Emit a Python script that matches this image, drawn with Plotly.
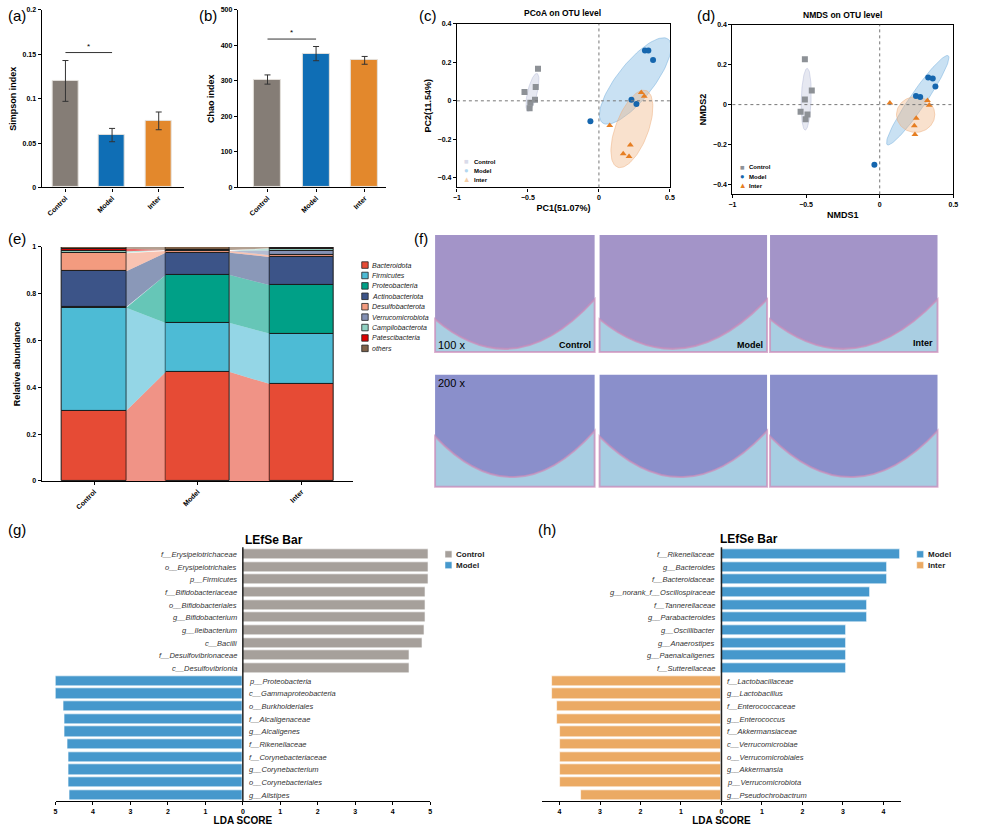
import numpy as np
import plotly.graph_objects as go

W, H = 999, 826
FONT = "Arial, Liberation Sans, sans-serif"

groups = ["Control", "Model", "Inter"]
group_colors = ["#857D76", "#0F6EB5", "#E3882C"]

# (a) Simpson index
simpson_mean = [0.120, 0.059, 0.075]
simpson_err = [0.023, 0.0075, 0.010]
# (b) Chao index
chao_mean = [304, 377, 358]
chao_err = [13, 20, 11]

# (c) PCoA on OTU level
pcoa_control_x = [-0.429, -0.445, -0.524, -0.450, -0.483, -0.488]
pcoa_control_y = [0.167, 0.072, 0.046, 0.005, -0.010, -0.039]
pcoa_model_x = [0.324, 0.348, 0.381, 0.229, 0.264, -0.060]
pcoa_model_y = [0.262, 0.262, 0.212, 0.005, -0.017, -0.106]
pcoa_inter_x = [0.298, 0.319, 0.076, 0.221, 0.171, 0.212]
pcoa_inter_y = [0.043, 0.024, -0.128, -0.229, -0.275, -0.289]
# ellipses: centre x, centre y, end of major axis x, y, minor/major ratio
pcoa_ell_control = [-0.468, 0.044, -0.436, 0.142, 0.25]
pcoa_ell_model = [0.256, 0.103, 0.488, 0.320, 0.34]
pcoa_ell_inter = [0.232, -0.146, 0.333, 0.053, 0.40]

# (d) NMDS on OTU level
nmds_control_x = [-0.508, -0.461, -0.508, -0.537, -0.490, -0.503]
nmds_control_y = [0.228, 0.071, 0.025, -0.036, -0.050, -0.074]
nmds_model_x = [0.329, 0.360, 0.378, 0.246, 0.275, -0.036]
nmds_model_y = [0.136, 0.131, 0.091, 0.043, 0.038, -0.301]
nmds_inter_x = [0.069, 0.324, 0.336, 0.248, 0.235, 0.239]
nmds_inter_y = [0.008, 0.021, -0.003, -0.069, -0.106, -0.150]
nmds_ell_control = [-0.499, 0.027, -0.492, 0.182, 0.16]
nmds_ell_model = [0.258, 0.022, 0.465, 0.245, 0.15]
nmds_ell_inter = [0.244, -0.050, 0.374, -0.050, 0.93]

# (e) phylum relative abundance
phyla = ["Bacteroidota", "Firmicutes", "Proteobacteria", "Actinobacteriota",
         "Desulfobacterota", "Verrucomicrobiota", "Campilobacterota",
         "Patescibacteria", "others"]
phyla_colors = ["#E64B35", "#4DBBD5", "#00A087", "#3C5488", "#F39B7F",
                "#8491B4", "#91D1C2", "#DC0000", "#7E6148"]
abund_control = [0.300, 0.440, 0.003, 0.153, 0.077, 0.002, 0.007, 0.010, 0.008]
abund_model = [0.465, 0.210, 0.205, 0.095, 0.008, 0.001, 0.002, 0.001, 0.013]
abund_inter = [0.415, 0.215, 0.207, 0.120, 0.007, 0.021, 0.008, 0.001, 0.006]

# (g) LEfSe Control vs Model
g_control_taxa = ["f__Erysipelotrichaceae", "o__Erysipelotrichales", "p__Firmicutes",
                  "f__Bifidobacteriaceae", "o__Bifidobacteriales", "g__Bifidobacterium",
                  "g__Ileibacterium", "c__Bacilli", "f__Desulfovibrionaceae",
                  "c__Desulfovibrionia"]
g_control_lda = [4.97, 4.97, 4.96, 4.87, 4.87, 4.87, 4.84, 4.79, 4.44, 4.44]
g_model_taxa = ["p__Proteobacteria", "c__Gammaproteobacteria", "o__Burkholderiales",
                "f__Alcaligenaceae", "g__Alcaligenes", "f__Rikenellaceae",
                "f__Corynebacteriaceae", "g__Corynebacterium", "o__Corynebacteriales",
                "g__Alistipes"]
g_model_lda = [4.99, 4.99, 4.79, 4.77, 4.76, 4.68, 4.64, 4.64, 4.64, 4.62]

# (h) LEfSe Model vs Inter
h_model_taxa = ["f__Rikenellaceae", "g__Bacteroides", "f__Bacteroidaceae",
                "g__norank_f__Oscillospiraceae", "f__Tannerellaceae", "g__Parabacteroides",
                "g__Oscillibacter", "g__Anaerostipes", "g__Paenalcaligenes",
                "f__Sutterellaceae"]
h_model_lda = [4.42, 4.10, 4.10, 3.68, 3.60, 3.60, 3.09, 3.09, 3.07, 3.07]
h_inter_taxa = ["f__Lactobacillaceae", "g__Lactobacillus", "f__Enterococcaceae",
                "g__Enterococcus", "f__Akkermansiaceae", "c__Verrucomicrobiae",
                "o__Verrucomicrobiales", "g__Akkermansia", "p__Verrucomicrobiota",
                "g__Pseudochrobactrum"]
h_inter_lda = [4.18, 4.18, 4.06, 4.06, 3.98, 3.98, 3.98, 3.98, 3.98, 3.46]

lefse_grey = "#A6A09B"
lefse_blue = "#4698CC"
lefse_orange = "#EBAA64"


def dx(x0, x1):
    return [x0 / W, x1 / W]


def dy(top, bottom):
    return [1 - bottom / H, 1 - top / H]


def ellipse_xy(e, sx, sy, n=90):
    cx, cy, ex, ey, r = e
    ax, ay = (ex - cx) * sx, (ey - cy) * sy
    bx, by = -ay * r, ax * r
    t = np.linspace(0, 2 * np.pi, n)
    return (cx + (ax * np.cos(t) + bx * np.sin(t)) / sx,
            cy + (ay * np.cos(t) + by * np.sin(t)) / sy)


fig = go.Figure()
annos = []
shapes = []


def text(x, y, s, size, xanchor="left", yanchor="middle", color="black", **font):
    annos.append(dict(x=x / W, y=1 - y / H, xref="paper", yref="paper", text=s,
                      showarrow=False, xanchor=xanchor, yanchor=yanchor, borderpad=0,
                      font=dict(size=size, color=color, family=FONT, **font)))


# ---------- (a) and (b) ----------
for i, (mean, err, ax) in enumerate([(simpson_mean, simpson_err, ""), (chao_mean, chao_err, "2")]):
    fig.add_trace(go.Bar(x=[0, 1, 2], y=mean, width=0.56,
                         marker=dict(color=group_colors, line=dict(color="#E4E1DC", width=1)),
                         error_y=dict(type="data", array=err, color="#333", thickness=1, width=3),
                         xaxis="x" + ax, yaxis="y" + ax, showlegend=False))

sig_a = [0, 1, 0.152]
sig_b = [0, 1, 418]
for sig, ax in [(sig_a, ""), (sig_b, "2")]:
    shapes.append(dict(type="line", xref="x" + ax, yref="y" + ax, x0=sig[0], x1=sig[1],
                       y0=sig[2], y1=sig[2], line=dict(color="#333", width=1)))
    annos.append(dict(x=(sig[0] + sig[1]) / 2, y=sig[2], xref="x" + ax, yref="y" + ax,
                      text="*", showarrow=False, yanchor="bottom", font=dict(size=8, family=FONT)))

# ---------- (c) and (d) ----------
scatter_sets = [
    ("3", [pcoa_control_x, pcoa_model_x, pcoa_inter_x], [pcoa_control_y, pcoa_model_y, pcoa_inter_y],
     [pcoa_ell_control, pcoa_ell_model, pcoa_ell_inter], 215 / 1.5, 165 / 0.85),
    ("4", [nmds_control_x, nmds_model_x, nmds_inter_x], [nmds_control_y, nmds_model_y, nmds_inter_y],
     [nmds_ell_control, nmds_ell_model, nmds_ell_inter], 223 / 1.5, 171 / 0.85),
]
ell_fill = ["rgba(200,203,225,0.45)", "rgba(120,180,225,0.40)", "rgba(240,180,130,0.40)"]
ell_line = ["rgba(180,185,215,0.6)", "rgba(110,170,220,0.6)", "rgba(235,170,120,0.6)"]
pt_colors = ["#8D9196", "#1566AE", "#E67E22"]
pt_symbols = ["square", "circle", "triangle-up"]
for ax, xs, ys, ells, sx, sy in scatter_sets:
    for k in range(3):
        ex, ey = ellipse_xy(ells[k], sx, sy)
        fig.add_trace(go.Scatter(x=ex, y=ey, mode="lines", fill="toself", fillcolor=ell_fill[k],
                                 line=dict(color=ell_line[k], width=0.8), hoverinfo="skip",
                                 xaxis="x" + ax, yaxis="y" + ax, showlegend=False))
    for k in range(3):
        fig.add_trace(go.Scatter(x=xs[k], y=ys[k], mode="markers", name=groups[k],
                                 marker=dict(color=pt_colors[k], symbol=pt_symbols[k], size=6),
                                 xaxis="x" + ax, yaxis="y" + ax, showlegend=False))
    shapes.append(dict(type="line", xref="x" + ax, yref="y" + ax + " domain", x0=0, x1=0, y0=0, y1=1,
                       line=dict(color="#777", width=1, dash="dot")))
    shapes.append(dict(type="line", xref="x" + ax + " domain", yref="y" + ax, x0=0, x1=1, y0=0, y1=0,
                       line=dict(color="#777", width=1, dash="dot")))

# ---------- (e) ----------
abund = [abund_control, abund_model, abund_inter]
bar_w = 0.62
cum = [np.concatenate([[0], np.cumsum(a)]) for a in abund]
for k, ph in enumerate(phyla):
    for i in range(2):
        bx = [i + bar_w / 2, i + 1 - bar_w / 2, i + 1 - bar_w / 2, i + bar_w / 2, i + bar_w / 2]
        by = [cum[i][k], cum[i + 1][k], cum[i + 1][k + 1], cum[i][k + 1], cum[i][k]]
        fig.add_trace(go.Scatter(x=bx, y=by, mode="lines", fill="toself", fillcolor=phyla_colors[k],
                                 opacity=0.6, line=dict(width=0), hoverinfo="skip",
                                 xaxis="x5", yaxis="y5", showlegend=False))
for k, ph in enumerate(phyla):
    fig.add_trace(go.Bar(x=[0, 1, 2], y=[a[k] for a in abund], width=bar_w, name=ph,
                         marker=dict(color=phyla_colors[k], line=dict(color="#1a1a1a", width=1)),
                         xaxis="x5", yaxis="y5", showlegend=False))

# ---------- (g) and (h) ----------
lefse_sets = [
    ("6", g_control_taxa, g_control_lda, g_model_taxa, g_model_lda, lefse_grey, lefse_blue),
    ("7", h_model_taxa, h_model_lda, h_inter_taxa, h_inter_lda, lefse_blue, lefse_orange),
]
for ax, pos_taxa, pos_lda, neg_taxa, neg_lda, pos_col, neg_col in lefse_sets:
    n = len(pos_taxa)
    pos_y = list(range(n))
    neg_y = list(range(n, n + len(neg_taxa)))
    fig.add_trace(go.Bar(x=pos_lda, y=pos_y, orientation="h", width=0.8,
                         marker=dict(color=pos_col, line=dict(color="rgba(255,255,255,0.6)", width=1)),
                         xaxis="x" + ax, yaxis="y" + ax, showlegend=False))
    fig.add_trace(go.Bar(x=[-v for v in neg_lda], y=neg_y, orientation="h", width=0.8,
                         marker=dict(color=neg_col, line=dict(color="rgba(255,255,255,0.6)", width=1)),
                         xaxis="x" + ax, yaxis="y" + ax, showlegend=False))
    for t, yv in zip(pos_taxa, pos_y):
        annos.append(dict(x=0, y=yv, xref="x" + ax, yref="y" + ax, text=t, showarrow=False,
                          xanchor="right", xshift=-4, font=dict(size=7.5, color="#333", family=FONT, style="italic")))
    for t, yv in zip(neg_taxa, neg_y):
        annos.append(dict(x=0, y=yv, xref="x" + ax, yref="y" + ax, text=t, showarrow=False,
                          xanchor="left", xshift=4, font=dict(size=7.5, color="#333", family=FONT, style="italic")))
    shapes.append(dict(type="line", xref="x" + ax, yref="y" + ax + " domain", x0=0, x1=0, y0=0, y1=1,
                       line=dict(color="#222", width=1.5)))

# ---------- axes ----------
tickfont = dict(size=7, family=FONT, color="black", weight="bold")
titlefont = dict(size=9, family=FONT, color="black", weight="bold")
base = dict(showline=True, linecolor="black", linewidth=1.2, ticks="outside", ticklen=3,
            tickcolor="black", tickfont=tickfont, showgrid=False, zeroline=False)

lay = dict(
    xaxis=dict(base, domain=dx(38, 182), range=[-0.51, 2.55], anchor="y",
               tickvals=[0, 1, 2], ticktext=groups, tickangle=-45),
    yaxis=dict(base, domain=dy(6, 185), range=[0, 0.2], dtick=0.05, anchor="x",
               title=dict(text="Simpson index", font=titlefont, standoff=4)),
    xaxis2=dict(base, domain=dx(236, 385), range=[-0.61, 2.43], anchor="y2",
                tickvals=[0, 1, 2], ticktext=groups, tickangle=-45),
    yaxis2=dict(base, domain=dy(6, 185), range=[0, 500], dtick=100, anchor="x2",
                title=dict(text="Chao index", font=titlefont, standoff=4)),
    xaxis3=dict(base, domain=dx(457, 672), range=[-1, 0.5], dtick=0.5, anchor="y3", mirror=True,
                title=dict(text="PC1(51.07%)", font=titlefont, standoff=4)),
    yaxis3=dict(base, domain=dy(20, 185), range=[-0.45, 0.4], dtick=0.2, anchor="x3", mirror=True,
                title=dict(text="PC2(11.54%)", font=titlefont, standoff=4)),
    xaxis4=dict(base, domain=dx(735, 958), range=[-1, 0.5], dtick=0.5, anchor="y4", mirror=True,
                title=dict(text="NMDS1", font=titlefont, standoff=4)),
    yaxis4=dict(base, domain=dy(21, 192), range=[-0.45, 0.4], dtick=0.2, anchor="x4", mirror=True,
                title=dict(text="NMDS2", font=titlefont, standoff=4)),
    xaxis5=dict(base, domain=dx(38, 352), range=[-0.507, 2.497], anchor="y5",
                tickvals=[0, 1, 2], ticktext=groups, tickangle=-45),
    yaxis5=dict(base, domain=dy(245, 481), range=[0, 1], dtick=0.2, anchor="x5",
                title=dict(text="Relative abundance", font=titlefont, standoff=4)),
    xaxis6=dict(base, domain=dx(52, 430), range=[-5, 5], anchor="y6",
                tickvals=list(range(-5, 6)), ticktext=[str(abs(v)) for v in range(-5, 6)],
                title=dict(text="LDA SCORE", font=dict(titlefont, size=10), standoff=2)),
    yaxis6=dict(domain=dy(548, 804), range=[19.47, -0.55], visible=False, anchor="x6"),
    xaxis7=dict(base, domain=dx(543, 905), range=[-4.43, 4.43], anchor="y7",
                tickvals=list(range(-4, 5)), ticktext=[str(abs(v)) for v in range(-4, 5)],
                title=dict(text="LDA SCORE", font=dict(titlefont, size=10), standoff=2)),
    yaxis7=dict(domain=dy(548, 804), range=[19.47, -0.55], visible=False, anchor="x7"),
)

# ---------- titles, panel labels, legends ----------
for lab, x, y in [("(a)", 3, 12), ("(b)", 196, 12), ("(c)", 418, 12), ("(d)", 698, 12),
                  ("(e)", 3, 236), ("(f)", 413, 236), ("(g)", 3, 530), ("(h)", 538, 530)]:
    text(x, y, lab, 15)
text(564, 9, "PCoA on OTU level", 8.5, xanchor="center", weight="bold")
text(846, 11, "NMDS on OTU level", 8.5, xanchor="center", weight="bold")
text(242, 541, "LEfSe Bar", 12, weight="bold")
text(722, 540, "LEfSe Bar", 12, weight="bold")

legend_c_cols = ["#D9DBEA", "#B3D7F0", "#F4CDA5"]
for k, (sym, yy) in enumerate(zip(["■", "●", "▲"], [159, 168, 177])):
    text(467, yy, sym, 7.5, xanchor="center", color=legend_c_cols[k])
    text(473, yy, groups[k], 6, weight="bold")
for k, (sym, yy) in enumerate(zip(["■", "●", "▲"], [164.5, 174, 183.5])):
    text(745, yy, sym, 7.5, xanchor="center", color=pt_colors[k])
    text(751, yy, groups[k], 6, weight="bold")

for k, ph in enumerate(phyla):
    yy = 263.3 + k * 10.5
    shapes.append(dict(type="rect", xref="paper", yref="paper", x0=361 / W, x1=367.5 / W,
                       y0=1 - (yy + 3.3) / H, y1=1 - (yy - 3.3) / H,
                       fillcolor=phyla_colors[k], line=dict(color="#222", width=0.8)))
    text(370, yy, ph, 7, color="#222", style="italic")

for lx, yys, names, cols in [(445, [555, 566], ["Control", "Model"], [lefse_grey, lefse_blue]),
                             (921, [555, 566], ["Model", "Inter"], [lefse_blue, lefse_orange])]:
    for yy, nm, col in zip(yys, names, cols):
        shapes.append(dict(type="rect", xref="paper", yref="paper", x0=lx / W, x1=(lx + 7) / W,
                           y0=1 - (yy + 3.5) / H, y1=1 - (yy - 3.5) / H, fillcolor=col,
                           line=dict(color="white", width=0.5)))
        text(lx + 10, yy, nm, 8, color="#222", weight="bold")

# ---------- (f) histology panels (photographs shown as tinted frames) ----------
cols_px = [(435, 596), (601, 770), (773, 942)]
rows_px = [(233, 351, "#A394C8", 0.72, 0.55), (374, 487, "#8A8FCB", 0.55, 0.5)]
for top, bot, col, lft, rgt in rows_px:
    h = bot - top
    for x0, x1 in cols_px:
        shapes.append(dict(type="rect", xref="paper", yref="paper", x0=x0 / W, x1=x1 / W,
                           y0=1 - bot / H, y1=1 - top / H, fillcolor=col, line=dict(width=0)))
        shapes.append(dict(type="path", xref="paper", yref="paper",
                           path="M {a},{b} Q {c},{d} {e},{g} L {e},{f} L {a},{f} Z".format(
                               a=x0 / W, b=1 - (top + lft * h) / H, c=(x0 + x1) / 2 / W,
                               d=1 - (bot + 0.3 * h) / H, e=x1 / W, g=1 - (top + rgt * h) / H,
                               f=1 - bot / H),
                           fillcolor="rgba(170,212,228,0.9)", line=dict(color="rgba(205,140,185,0.7)", width=2)))
text(437, 344, "100 x", 11)
text(437, 382, "200 x", 11)
text(593, 344, "Control", 9, xanchor="right", weight="bold")
text(767, 344, "Model", 9, xanchor="right", weight="bold")
text(938, 342, "Inter", 9, xanchor="right", weight="bold")

fig.update_layout(width=W, height=H, margin=dict(l=0, r=0, t=0, b=0), autosize=False,
                  paper_bgcolor="white", plot_bgcolor="white", barmode="relative", bargap=0,
                  font=dict(family=FONT, color="black"), annotations=annos, shapes=shapes, **lay)

fig.write_html("out.html", config={"displayModeBar": False},
               post_script="document.body.style.margin='0';document.body.style.overflow='hidden';")
